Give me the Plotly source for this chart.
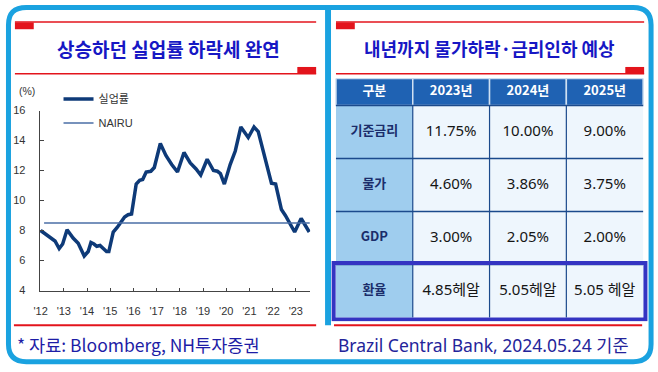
import plotly.graph_objects as go

W, H = 658, 372

# ---------------- data ----------------
years = [2012.00, 2012.25, 2012.45, 2012.62, 2012.80, 2012.95, 2013.14, 2013.40, 2013.62, 2013.88,
         2014.05, 2014.17, 2014.30, 2014.42, 2014.56, 2014.70, 2014.84, 2014.94, 2015.13, 2015.30,
         2015.45, 2015.62, 2015.77, 2015.92, 2016.12, 2016.27, 2016.40, 2016.55, 2016.75, 2016.90,
         2017.16, 2017.40, 2017.65, 2017.90, 2018.18, 2018.45, 2018.70, 2018.90, 2019.18, 2019.45,
         2019.62, 2019.75, 2019.92, 2020.17, 2020.39, 2020.63, 2020.95, 2021.20, 2021.38, 2021.67,
         2021.95, 2022.13, 2022.38, 2022.55, 2022.73, 2022.95, 2023.23, 2023.58]
unemp = [8.0, 7.7, 7.5, 7.3, 6.8, 7.1, 8.05, 7.5, 7.15, 6.3,
         6.6, 7.2, 7.1, 6.95, 7.0, 6.8, 6.6, 6.6, 7.9, 8.2,
         8.5, 8.9, 9.05, 9.1, 11.1, 11.35, 11.4, 11.9, 11.95, 12.2,
         13.8, 13.0, 12.4, 11.9, 13.2, 12.5, 12.1, 11.7, 12.75, 12.0,
         11.95, 11.8, 11.1, 12.4, 13.3, 14.9, 14.2, 14.9, 14.6, 12.9,
         11.15, 11.1, 9.4, 9.0, 8.5, 7.9, 8.8, 7.9]
nairu_value = 8.5
nairu_span = [2012.15, 2023.6]
tick_years = list(range(2012, 2024))
tick_labels = ["'12", "'13", "'14", "'15", "'16", "'17", "'18", "'19", "'20", "'21", "'22", "'23"]
y_ticks = [4, 6, 8, 10, 12, 14, 16]

table_header = ["구분", "2023년", "2024년", "2025년"]
row_labels = ["기준금리", "물가", "GDP", "환율"]
policy_rate = ["11.75%", "10.00%", "9.00%"]
inflation = ["4.60%", "3.86%", "3.75%"]
gdp_growth = ["3.00%", "2.05%", "2.00%"]
fx_rate = ["4.85헤알", "5.05헤알", "5.05 헤알"]
table_rows = [policy_rate, inflation, gdp_growth, fx_rate]

left_title = "상승하던 실업률 하락세 완연"
right_title = "내년까지 물가하락·금리인하 예상"
left_note = "* 자료: Bloomberg, NH투자증권"
right_note = "Brazil Central Bank, 2024.05.24 기준"

# ---------------- helpers ----------------
def X(p):
    return p / W

def Y(p):
    return 1 - p / H

CYAN = "#1aa2e0"
RED = "#e3141c"
NAVY = "#0e3a78"
TITLE_BLUE = "#1717c4"
NOTE_BLUE = "#1d1da6"
NARROW = "Liberation Sans Narrow, Arial Narrow, Liberation Sans, Arial, sans-serif"
KR = "Noto Sans CJK KR, Noto Sans, sans-serif"

fig = go.Figure()

fig.add_trace(go.Scatter(x=years, y=unemp, mode="lines", name="실업률",
                         line=dict(color=NAVY, width=3.5), legend="legend",
                         hoverinfo="skip"))
fig.add_trace(go.Scatter(x=nairu_span, y=[nairu_value, nairu_value], mode="lines", name="NAIRU",
                         line=dict(color="#4a6ea6", width=1.5), legend="legend2",
                         hoverinfo="skip"))

# ---------------- table (own axes) ----------------
n_rows = len(row_labels)
hdr_h = 0.51
pad = 0.07
shapes = []
for j, _ in enumerate(table_header):
    shapes.append(dict(type="rect", xref="x2", yref="y2", x0=j - 0.5, x1=j + 0.5,
                       y0=n_rows, y1=n_rows + hdr_h, fillcolor="#1f62b3",
                       line=dict(color="#cfe0f2", width=1.5), layer="below"))
for i in range(n_rows):
    yc = n_rows - 1 - i
    for j in range(len(table_header)):
        shapes.append(dict(type="rect", xref="x2", yref="y2", x0=j - 0.5, x1=j + 0.5,
                           y0=yc, y1=yc + 1,
                           fillcolor="#9fcdee" if j == 0 else "#eef6fd",
                           line=dict(width=0), layer="below"))
for k in range(1, n_rows + 1):
    shapes.append(dict(type="line", xref="x2", yref="y2", x0=-0.5, x1=3.5, y0=k, y1=k,
                       line=dict(color="#1b4a8c", width=1.5)))
for k in range(1, len(table_header)):
    shapes.append(dict(type="line", xref="x2", yref="y2", x0=k - 0.5, x1=k - 0.5, y0=0, y1=n_rows,
                       line=dict(color="#1b4a8c", width=1.2)))
shapes.append(dict(type="rect", xref="x2", yref="y2", x0=-0.53, x1=3.53, y0=-0.035, y1=1.03,
                   line=dict(color="#3434c2", width=4), fillcolor="rgba(0,0,0,0)"))

fig.add_trace(go.Scatter(x=list(range(len(table_header))), y=[n_rows + hdr_h / 2] * len(table_header),
                         text=table_header, mode="text", xaxis="x2", yaxis="y2",
                         textfont=dict(family=KR, size=13, color="white", weight="bold"),
                         showlegend=False, hoverinfo="skip"))
fig.add_trace(go.Scatter(x=[0] * n_rows, y=[n_rows - 0.5 - i for i in range(n_rows)],
                         text=row_labels, mode="text", xaxis="x2", yaxis="y2",
                         textfont=dict(family=KR, size=13, color="#1b2d6b", weight="bold"),
                         showlegend=False, hoverinfo="skip"))
for i, vals in enumerate(table_rows):
    fig.add_trace(go.Scatter(x=[1, 2, 3], y=[n_rows - 0.5 - i] * 3, text=vals, mode="text",
                             xaxis="x2", yaxis="y2",
                             textfont=dict(family="Noto Sans, Noto Sans CJK KR, sans-serif",
                                           size=15, color="#151515"),
                             showlegend=False, hoverinfo="skip"))

# ---------------- frame & decorations ----------------
def rrect(x0, y0, x1, y1, r):
    return (f"M {X(x0 + r)},{Y(y0)} L {X(x1 - r)},{Y(y0)} Q {X(x1)},{Y(y0)} {X(x1)},{Y(y0 + r)} "
            f"L {X(x1)},{Y(y1 - r)} Q {X(x1)},{Y(y1)} {X(x1 - r)},{Y(y1)} "
            f"L {X(x0 + r)},{Y(y1)} Q {X(x0)},{Y(y1)} {X(x0)},{Y(y1 - r)} "
            f"L {X(x0)},{Y(y0 + r)} Q {X(x0)},{Y(y0)} {X(x0 + r)},{Y(y0)} Z")

shapes.append(dict(type="path", xref="paper", yref="paper", path=rrect(2.5, 1.5, 651, 367.5, 18),
                   line=dict(color=CYAN, width=5), fillcolor="rgba(0,0,0,0)"))
shapes.append(dict(type="rect", xref="paper", yref="paper", x0=X(322), x1=X(328), y0=Y(330), y1=Y(0),
                   fillcolor=CYAN, line=dict(width=0)))

def red_set(xl, xr):
    out = []
    out.append(dict(type="line", xref="paper", yref="paper", x0=X(xl), x1=X(xr), y0=Y(16.5), y1=Y(16.5),
                    line=dict(color=RED, width=1.6)))
    out.append(dict(type="rect", xref="paper", yref="paper", x0=X(xl), x1=X(xl + 19), y0=Y(24), y1=Y(17),
                    fillcolor=RED, line=dict(width=0)))
    out.append(dict(type="line", xref="paper", yref="paper", x0=X(xl), x1=X(xr), y0=Y(70), y1=Y(70),
                    line=dict(color=RED, width=1.6)))
    out.append(dict(type="rect", xref="paper", yref="paper", x0=X(xr - 19), x1=X(xr), y0=Y(70), y1=Y(63),
                    fillcolor=RED, line=dict(width=0)))
    return out

shapes += red_set(9, 313)
shapes += red_set(333, 644)
shapes.append(dict(type="line", xref="paper", yref="paper", x0=X(8), x1=X(313), y0=Y(330), y1=Y(330),
                   line=dict(color=RED, width=2)))
shapes.append(dict(type="line", xref="paper", yref="paper", x0=X(331), x1=X(642), y0=Y(330), y1=Y(330),
                   line=dict(color=RED, width=2)))

annotations = [
    dict(text=left_title, x=X(164), y=Y(44), xref="paper", yref="paper", showarrow=False,
         font=dict(family=KR, size=19, color=TITLE_BLUE, weight="bold"), xanchor="center", yanchor="middle"),
    dict(text=right_title, x=X(488), y=Y(43), xref="paper", yref="paper", showarrow=False,
         font=dict(family=KR, size=18, color=TITLE_BLUE, weight="bold"), xanchor="center", yanchor="middle"),
    dict(text=left_note, x=X(9), y=Y(350), xref="paper", yref="paper", showarrow=False,
         font=dict(family=KR, size=17.5, color=NOTE_BLUE), xanchor="left", yanchor="middle"),
    dict(text=right_note, x=X(333), y=Y(350), xref="paper", yref="paper", showarrow=False,
         font=dict(family="Noto Sans, Noto Sans CJK KR, sans-serif", size=17.5, color="#24249a"),
         xanchor="left", yanchor="middle"),
    dict(text="(%)", x=X(11), y=Y(88), xref="paper", yref="paper", showarrow=False,
         font=dict(family=NARROW, size=10.5, color="#333"), xanchor="left", yanchor="middle"),
]

unit_x = (643 - 333) / 4.0
unit_y = (322 - 75) / (n_rows + hdr_h)

fig.update_layout(
    width=W, height=H, autosize=False,
    margin=dict(l=0, r=0, t=0, b=0),
    paper_bgcolor="white", plot_bgcolor="rgba(0,0,0,0)",
    shapes=shapes, annotations=annotations,
    xaxis=dict(domain=[X(34), X(307)], range=[2011.96, 2023.62], tickvals=tick_years, ticktext=tick_labels,
               showline=True, linecolor="#444", linewidth=1, ticks="inside", ticklen=3, tickcolor="#444",
               showgrid=False, zeroline=False, tickfont=dict(family=NARROW, size=11, color="#333"),
               ticklabelstandoff=10, anchor="y", fixedrange=True),
    yaxis=dict(domain=[Y(294), Y(108)], range=[4, 16], tickvals=y_ticks,
               showline=True, linecolor="#444", linewidth=1, ticks="inside", ticklen=4, tickcolor="#444",
               showgrid=False, zeroline=False, tickfont=dict(family=NARROW, size=11, color="#333"),
               ticklabelstandoff=11, anchor="x", fixedrange=True),
    xaxis2=dict(domain=[X(333 - pad * unit_x), X(643 + pad * unit_x)], range=[-0.5 - pad, 3.5 + pad],
                visible=False, anchor="y2", fixedrange=True),
    yaxis2=dict(domain=[Y(322 + pad * unit_y), Y(75)], range=[-pad, n_rows + hdr_h],
                visible=False, anchor="x2", fixedrange=True),
    legend=dict(x=X(53), y=Y(81), xanchor="left", yanchor="top", bgcolor="rgba(0,0,0,0)",
                font=dict(family=KR, size=11, color="#333"), itemwidth=30),
    legend2=dict(x=X(53), y=Y(106), xanchor="left", yanchor="top", bgcolor="rgba(0,0,0,0)",
                 font=dict(family=NARROW, size=11, color="#333"), itemwidth=30),
)

fig.write_html("out.html", config={"displayModeBar": False},
               post_script="document.body.style.margin='0px';document.body.style.padding='0px';")
